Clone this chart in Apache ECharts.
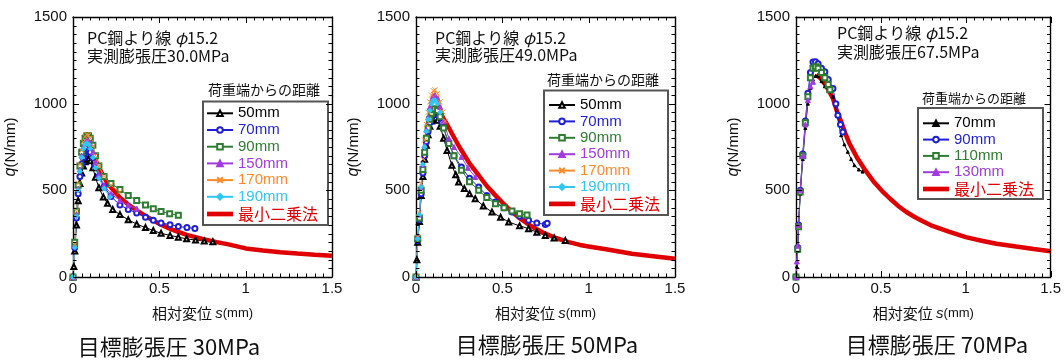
<!DOCTYPE html>
<html>
<head>
<meta charset="utf-8">
<script src="https://cdn.jsdelivr.net/npm/echarts@6/dist/echarts.min.js"></script>
<style>
  html, body { margin: 0; padding: 0; background: #fff; }
  #chart { width: 1064px; height: 360px; }
</style>
</head>
<body>
<div id="chart"></div>
<script>
// ---- 軸目盛 ----
const xTicks = [0, 0.5, 1, 1.5];
const yTicks = [0, 500, 1000, 1500];
const minorSplits = 10;

// ---- 目標膨張圧 30MPa : [相対変位 s (mm), q (N/mm)] ----
const p30_50mm = [[0,0],[0.005,60],[0.01,150],[0.02,300],[0.03,440],[0.04,540],[0.05,600],[0.06,640],[0.07,665],[0.08,678],[0.09,682],[0.1,670],[0.115,630],[0.13,575],[0.15,515],[0.176,461],[0.2,425],[0.23,390],[0.272,360],[0.32,330],[0.369,305],[0.42,285],[0.465,268],[0.51,252],[0.562,240],[0.61,230],[0.658,220],[0.71,213],[0.76,208],[0.81,203]];
const p30_70mm = [[0,0],[0.01,170],[0.02,340],[0.03,480],[0.04,580],[0.05,650],[0.06,690],[0.07,715],[0.08,725],[0.09,728],[0.1,720],[0.115,690],[0.13,640],[0.15,580],[0.18,520],[0.22,465],[0.272,415],[0.32,390],[0.369,369],[0.42,345],[0.465,327],[0.51,312],[0.562,302],[0.61,292],[0.66,285],[0.706,280]];
const p30_90mm = [[0,0],[0.01,200],[0.02,380],[0.03,530],[0.04,640],[0.05,720],[0.06,770],[0.07,800],[0.08,815],[0.09,815],[0.1,800],[0.115,760],[0.13,700],[0.15,640],[0.18,580],[0.22,540],[0.272,505],[0.32,470],[0.369,442],[0.42,415],[0.465,394],[0.51,378],[0.56,365],[0.61,356]];
const p30_150mm = [[0,0],[0.01,180],[0.02,360],[0.03,510],[0.04,620],[0.05,700],[0.06,750],[0.07,778],[0.08,790],[0.09,788],[0.1,770],[0.115,720],[0.13,660],[0.15,590],[0.18,530],[0.22,480],[0.272,442],[0.32,415],[0.37,394]];
const p30_170mm = [[0,0],[0.01,190],[0.02,380],[0.03,540],[0.04,650],[0.05,730],[0.06,780],[0.07,810],[0.08,822],[0.09,818],[0.1,800],[0.115,755],[0.13,700],[0.15,640],[0.18,580],[0.22,530],[0.27,490]];
const p30_190mm = [[0,0],[0.01,170],[0.02,350],[0.03,500],[0.04,610],[0.05,690],[0.06,740],[0.07,765],[0.08,772],[0.09,765],[0.1,740],[0.115,690],[0.13,630],[0.15,570],[0.18,510],[0.214,461]];
const p30_fit = [[0.09,760],[0.1,745],[0.12,700],[0.15,630],[0.2,540],[0.272,458],[0.32,418],[0.369,384],[0.42,352],[0.465,326],[0.51,302],[0.562,278],[0.61,260],[0.658,243],[0.75,220],[0.832,201],[0.9,188],[1.0,165],[1.1,153],[1.2,143],[1.3,135],[1.4,128],[1.5,122]];

// ---- 目標膨張圧 50MPa ----
const p50_50mm = [[0,0],[0.005,100],[0.01,200],[0.02,320],[0.03,470],[0.04,580],[0.05,680],[0.06,760],[0.07,820],[0.08,870],[0.09,900],[0.1,915],[0.112,918],[0.125,905],[0.14,870],[0.16,800],[0.18,730],[0.208,644],[0.23,590],[0.247,548],[0.28,510],[0.31,480],[0.343,452],[0.39,410],[0.44,375],[0.49,345],[0.537,317],[0.6,295],[0.652,279],[0.7,258],[0.749,240],[0.8,225],[0.865,210]];
const p50_70mm = [[0,0],[0.01,210],[0.02,330],[0.03,480],[0.04,600],[0.05,700],[0.06,780],[0.07,840],[0.08,890],[0.09,920],[0.1,940],[0.115,948],[0.13,935],[0.15,890],[0.186,779],[0.22,700],[0.263,635],[0.31,570],[0.363,519],[0.41,470],[0.46,432],[0.51,400],[0.556,375],[0.6,350],[0.652,327],[0.7,312],[0.749,303],[0.76,310]];
const p50_90mm = [[0,0],[0.01,220],[0.02,340],[0.03,500],[0.04,620],[0.05,720],[0.06,800],[0.07,860],[0.08,910],[0.09,945],[0.1,965],[0.11,970],[0.125,960],[0.14,925],[0.16,860],[0.19,770],[0.22,700],[0.263,616],[0.31,550],[0.363,500],[0.41,458],[0.46,423],[0.51,400],[0.556,381],[0.6,365],[0.643,358]];
const p50_150mm = [[0,0],[0.01,230],[0.02,360],[0.03,520],[0.04,650],[0.05,760],[0.06,850],[0.07,920],[0.08,980],[0.09,1020],[0.1,1045],[0.11,1050],[0.125,1030],[0.14,980],[0.16,900],[0.19,800],[0.22,750],[0.263,693],[0.3,630],[0.343,577]];
const p50_170mm = [[0,0],[0.01,230],[0.02,370],[0.03,540],[0.04,680],[0.05,790],[0.06,880],[0.07,950],[0.08,1010],[0.09,1050],[0.1,1075],[0.11,1080],[0.125,1060],[0.14,1010],[0.156,953],[0.17,900]];
const p50_190mm = [[0,0],[0.01,220],[0.02,360],[0.03,520],[0.04,650],[0.05,750],[0.06,840],[0.07,910],[0.08,960],[0.09,1000],[0.1,1018],[0.11,1020],[0.125,1000],[0.14,950]];
const p50_fit = [[0.122,991],[0.15,930],[0.18,880],[0.208,828],[0.24,770],[0.263,731],[0.31,655],[0.363,587],[0.41,525],[0.46,471],[0.51,420],[0.556,375],[0.6,340],[0.652,303],[0.7,275],[0.749,250],[0.81,225],[0.884,201],[0.95,185],[1.0,176],[1.1,160],[1.25,134],[1.35,122],[1.5,105]];

// ---- 目標膨張圧 70MPa ----
const p70_70mm = [[0,0],[0.005,60],[0.01,150],[0.015,290],[0.025,480],[0.04,680],[0.055,860],[0.07,1000],[0.085,1090],[0.1,1140],[0.115,1160],[0.13,1158],[0.15,1130],[0.17,1100],[0.19,1075],[0.218,1040],[0.24,940],[0.266,818],[0.285,765],[0.305,722],[0.325,680],[0.344,645],[0.37,620],[0.392,608]];
const p70_90mm = [[0,0],[0.01,170],[0.015,300],[0.025,500],[0.04,710],[0.055,900],[0.07,1060],[0.085,1180],[0.1,1240],[0.115,1242],[0.13,1230],[0.15,1205],[0.17,1184],[0.19,1140],[0.218,1088],[0.235,1000],[0.247,933],[0.262,880],[0.276,837]];
const p70_110mm = [[0,0],[0.01,160],[0.015,290],[0.025,490],[0.04,700],[0.055,890],[0.07,1040],[0.085,1150],[0.1,1205],[0.115,1213],[0.13,1205],[0.15,1180],[0.17,1150],[0.19,1110],[0.2,1080]];
const p70_130mm = [[0,0],[0.005,90],[0.01,180],[0.015,300],[0.025,500],[0.04,700],[0.055,880],[0.07,1020],[0.085,1100],[0.1,1126]];
const p70_fit = [[0.12,1170],[0.15,1140],[0.18,1100],[0.218,1030],[0.24,960],[0.266,895],[0.29,830],[0.315,770],[0.34,725],[0.363,683],[0.409,615],[0.459,548],[0.506,497],[0.556,450],[0.602,410],[0.65,375],[0.699,346],[0.75,320],[0.795,298],[0.9,262],[1.0,230],[1.1,208],[1.181,192],[1.297,176],[1.4,162],[1.5,149]];

// ---- 表示テキスト ----
const distances30 = ['50mm', '70mm', '90mm', '150mm', '170mm', '190mm'];
const distances50 = ['50mm', '70mm', '90mm', '150mm', '170mm', '190mm'];
const distances70 = ['70mm', '90mm', '110mm', '130mm'];
const fitLabel = '最小二乗法';
const legendTitle = '荷重端からの距離';
const strandNote = 'PC鋼より線 ';
const measuredNotes = ['実測膨張圧30.0MPa', '実測膨張圧49.0MPa', '実測膨張圧67.5MPa'];
const captions = ['目標膨張圧 30MPa', '目標膨張圧 50MPa', '目標膨張圧 70MPa'];
const panelKeys = ['30MPa', '50MPa', '70MPa'];

// ---- 書式 ----
const CJK = '"Noto Sans CJK JP", sans-serif';
const LAT = '"Liberation Sans", Arial, sans-serif';
const FIT_RED = '#e00000';
const crossPath = 'path://M0,0L10,10M10,0L0,10';

const styleA = [ // 30MPa / 50MPa 共通
  { color: '#000000', symbol: 'emptyTriangle', size: 5 },
  { color: '#1f1fd6', symbol: 'emptyCircle', size: 5 },
  { color: '#2e7d32', symbol: 'emptyRect', size: 5 },
  { color: '#a23be0', symbol: 'triangle', size: 5 },
  { color: '#ff8a2a', symbol: crossPath, size: 5 },
  { color: '#2ec8f2', symbol: 'diamond', size: 5 }
];
const styleB = [
  { color: '#000000', symbol: 'triangle', size: 3 },
  { color: '#1f1fd6', symbol: 'emptyCircle', size: 5 },
  { color: '#2e7d32', symbol: 'emptyRect', size: 5 },
  { color: '#a23be0', symbol: 'triangle', size: 5 }
];

// fitOrder: 近似曲線を何本目の実測系列の後に重ねるか
const panels = [
  { key: panelKeys[0], names: distances30, data: [p30_50mm, p30_70mm, p30_90mm, p30_150mm, p30_170mm, p30_190mm], fit: p30_fit, styles: styleA, fitOrder: 1,
    grid: { left: 73, top: 17, width: 259, height: 260 },
    note: { x: 87, y1: 38, y2: 56 },
    box: { x: 203, y: 101.5, w: 125, h: 123.5 },
    title: { x: 208, y: 90, size: 14 },
    legend: { left: 206, top: 105.8, gap: 1.7 },
    caption: { x: 169, y: 347 } },
  { key: panelKeys[1], names: distances50, data: [p50_50mm, p50_70mm, p50_90mm, p50_150mm, p50_170mm, p50_190mm], fit: p50_fit, styles: styleA, fitOrder: 6,
    grid: { left: 416, top: 17, width: 259, height: 260 },
    note: { x: 435, y1: 38, y2: 55 },
    box: { x: 544, y: 90.5, w: 124, h: 124.5 },
    title: { x: 547, y: 80, size: 14 },
    legend: { left: 548, top: 97.5, gap: 1.4 },
    caption: { x: 547, y: 345 } },
  { key: panelKeys[2], names: distances70, data: [p70_70mm, p70_90mm, p70_110mm, p70_130mm], fit: p70_fit, styles: styleB, fitOrder: 0,
    grid: { left: 796, top: 17, width: 260, height: 260 },
    note: { x: 837, y1: 33, y2: 52 },
    box: { x: 918, y: 108, w: 125, h: 91 },
    title: { x: 922, y: 98.3, size: 13 },
    legend: { left: 922, top: 115.8, gap: 1.3 },
    caption: { x: 937, y: 345 } }
];

const X_MIN = xTicks[0], X_MAX = xTicks[xTicks.length - 1], X_INT = xTicks[1] - xTicks[0];
const Y_MIN = yTicks[0], Y_MAX = yTicks[yTicks.length - 1], Y_INT = yTicks[1] - yTicks[0];

const grids = [], xAxes = [], yAxes = [], series = [], legends = [], graphics = [];

function makeAxis(gridIndex, position, min, max, interval, label) {
  return {
    gridIndex, position, type: 'value', min, max, interval,
    axisLine: { show: true, onZero: false, lineStyle: { color: '#000', width: 1.4 } },
    axisTick: { show: false },
    minorTick: { show: false },
    splitLine: { show: false },
    minorSplitLine: { show: false },
    axisLabel: Object.assign({ show: !!label, color: '#111', fontFamily: LAT, fontSize: 15,
      formatter: v => String(v) }, label || {})
  };
}

// 枠の四辺の内向き目盛(主目盛と 1/10 間隔の副目盛)を軸の値から並べる
// 各要素: [軸上の値, 辺 (0:下 1:上 2:左 3:右), 主目盛なら 1]
function frameTickItems() {
  const items = [];
  const nx = Math.round((X_MAX - X_MIN) / X_INT) * minorSplits;
  for (let k = 0; k <= nx; k++) {
    const v = X_MIN + k * X_INT / minorSplits, major = k % minorSplits === 0 ? 1 : 0;
    items.push([v, 0, major], [v, 1, major]);
  }
  const ny = Math.round((Y_MAX - Y_MIN) / Y_INT) * minorSplits;
  for (let k = 0; k <= ny; k++) {
    const v = Y_MIN + k * Y_INT / minorSplits, major = k % minorSplits === 0 ? 1 : 0;
    items.push([v, 2, major], [v, 3, major]);
  }
  return items;
}

function renderFrameTick(params, api) {
  const v = api.value(0), side = api.value(1), len = api.value(2) ? 6 : 3.5;
  let x1, y1, x2, y2;
  if (side < 2) {
    const p = api.coord([v, side === 0 ? Y_MIN : Y_MAX]);
    x1 = x2 = Math.round(p[0]) + 0.5;
    y1 = p[1];
    y2 = side === 0 ? p[1] - len : p[1] + len;
  } else {
    const p = api.coord([side === 2 ? X_MIN : X_MAX, v]);
    y1 = y2 = Math.round(p[1]) + 0.5;
    x1 = p[0];
    x2 = side === 2 ? p[0] + len : p[0] - len;
  }
  return { type: 'line', shape: { x1, y1, x2, y2 }, style: { stroke: '#000', lineWidth: 1 }, silent: true };
}

panels.forEach((p, gi) => {
  grids.push(Object.assign({}, p.grid));
  const xBase = xAxes.length, yBase = yAxes.length;

  const xb = makeAxis(gi, 'bottom', X_MIN, X_MAX, X_INT, { margin: 4 });
  Object.assign(xb, {
    name: '{c|相対変位 }{i|s}{m|(mm)}', nameLocation: 'middle', nameGap: 29,
    nameTextStyle: { rich: {
      c: { fontFamily: CJK, fontSize: 15, color: '#111' },
      i: { fontFamily: LAT, fontStyle: 'italic', fontSize: 15, color: '#111' },
      m: { fontFamily: LAT, fontSize: 13, color: '#111' } } } });
  xAxes.push(xb, makeAxis(gi, 'top', X_MIN, X_MAX, X_INT, null));

  const yl = makeAxis(gi, 'left', Y_MIN, Y_MAX, Y_INT, { margin: 6 });
  Object.assign(yl, {
    name: '{i|q}{n|(N/mm)}', nameLocation: 'middle', nameGap: 54,
    nameTextStyle: { rich: {
      i: { fontFamily: LAT, fontStyle: 'italic', fontSize: 16, color: '#111' },
      n: { fontFamily: LAT, fontSize: 15, color: '#111' } } } });
  yAxes.push(yl, makeAxis(gi, 'right', Y_MIN, Y_MAX, Y_INT, null));

  const measured = p.data.map((d, i) => {
    const st = p.styles[i];
    return {
      type: 'line', name: p.key + ' ' + p.names[i], data: d,
      xAxisIndex: xBase, yAxisIndex: yBase,
      symbol: st.symbol, symbolSize: st.size, showSymbol: true,
      lineStyle: { color: st.color, width: 1 },
      itemStyle: { color: st.color, borderColor: st.color, borderWidth: 1 },
      silent: true
    };
  });
  const fitSeries = {
    type: 'line', name: p.key + ' ' + fitLabel, data: p.fit,
    xAxisIndex: xBase, yAxisIndex: yBase,
    symbol: 'none',
    lineStyle: { color: FIT_RED, width: 4.5 },
    itemStyle: { color: FIT_RED },
    silent: true
  };
  measured.splice(p.fitOrder, 0, fitSeries);
  series.push(...measured);

  series.push({
    type: 'custom', name: p.key + ' frame ticks',
    xAxisIndex: xBase, yAxisIndex: yBase,
    data: frameTickItems(), renderItem: renderFrameTick,
    clip: false, silent: true, z: 5
  });

  const legendData = p.names.map((n, i) => ({
    name: p.key + ' ' + n,
    textStyle: { color: p.styles[i].color, fontFamily: LAT, fontSize: 15 }
  }));
  legendData.push({
    name: p.key + ' ' + fitLabel,
    icon: 'path://M0,0H20V3.6H0Z',
    itemStyle: { color: FIT_RED },
    textStyle: { color: FIT_RED, fontFamily: CJK, fontSize: 16 }
  });

  legends.push({
    orient: 'vertical', left: p.legend.left, top: p.legend.top,
    padding: 0, itemGap: p.legend.gap, itemWidth: 26, itemHeight: 7,
    selectedMode: false, z: 10,
    data: legendData,
    formatter: name => name.slice(name.indexOf(' ') + 1)
  });

  graphics.push(
    { type: 'rect', z: 5, shape: { x: p.box.x, y: p.box.y, width: p.box.w, height: p.box.h },
      style: { fill: '#fff', stroke: '#555', lineWidth: 2 } },
    { type: 'text', z: 6, x: p.title.x, y: p.title.y,
      style: { text: legendTitle, fill: '#111', font: p.title.size + 'px ' + CJK, verticalAlign: 'middle', align: 'left' } },
    { type: 'text', z: 6, x: p.note.x, y: p.note.y1,
      style: { text: '{a|' + strandNote + '}{b|φ}{a|15.2}', verticalAlign: 'middle', align: 'left',
        rich: { a: { fontFamily: CJK, fontSize: 16, fill: '#111' },
                b: { fontFamily: CJK, fontStyle: 'italic', fontSize: 16, fill: '#111' } } } },
    { type: 'text', z: 6, x: p.note.x, y: p.note.y2,
      style: { text: measuredNotes[gi], fill: '#111', font: '16px ' + CJK, verticalAlign: 'middle', align: 'left' } },
    { type: 'text', z: 6, x: p.caption.x, y: p.caption.y,
      style: { text: captions[gi], fill: '#111', font: '22px ' + CJK, verticalAlign: 'middle', align: 'center' } }
  );
});

const chart = echarts.init(document.getElementById('chart'));
chart.setOption({
  animation: false,
  grid: grids,
  xAxis: xAxes,
  yAxis: yAxes,
  legend: legends,
  series: series,
  graphic: graphics
});
</script>
</body>
</html>
